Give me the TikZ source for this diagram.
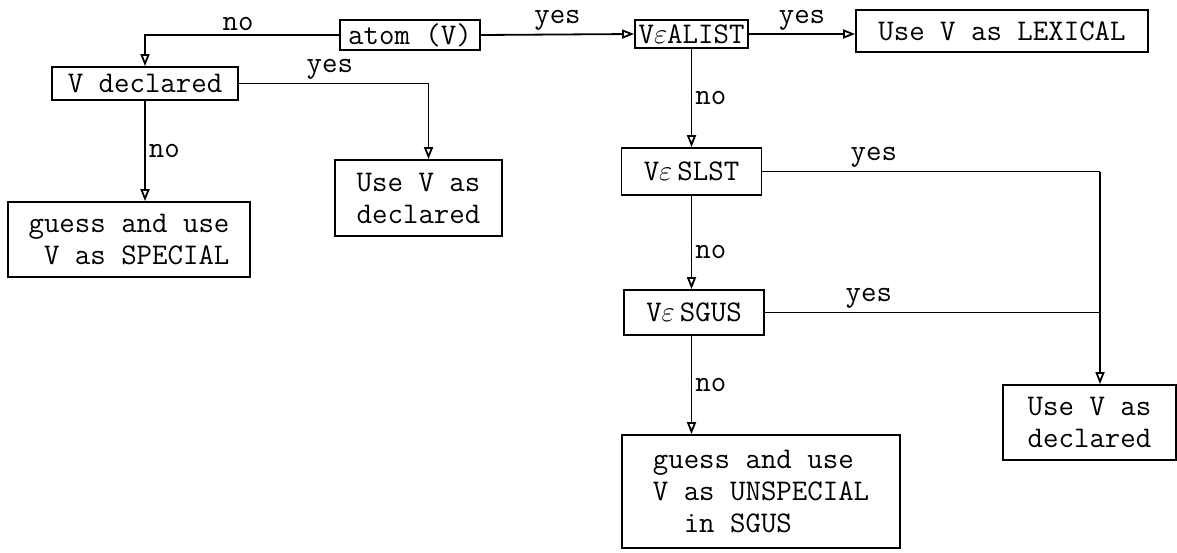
\documentclass[tikz,border=0pt]{standalone}
\usepackage{tikz}
\usetikzlibrary{positioning,arrows.meta}
\newcommand{\tw}{\fontsize{15}{16}\selectfont\ttfamily}
\newcommand{\ep}{$\varepsilon$}
\tikzset{
  box/.style={rectangle,draw,line width=0.9pt,inner sep=0pt,align=left,font=\tw},
  lbl/.style={font=\tw,inner sep=1.5pt},
  fl/.style={-{Triangle[open,length=6pt,width=4.5pt]},line width=0.9pt},
  ln/.style={line width=0.9pt},
}
\begin{document}
\begin{tikzpicture}[x=0.5pt,y=-0.5pt]
  \useasboundingbox[fill=white] (0,0) rectangle (1177,552);
  % top row
  \node[box,minimum width=70pt,minimum height=15pt] (atom) at (410,35) {atom (V)};
  \node[box,minimum width=56.5pt,minimum height=14pt] (alist) at (691.5,34) {V\ep ALIST};
  \node[box,minimum width=146pt,minimum height=21pt] (lex) at (1002,31) {Use V as LEXICAL};
  % left branch
  \node[box,minimum width=93pt,minimum height=16.5pt] (decl) at (145,83.5) {V declared};
  \node[box,minimum width=83.5pt,minimum height=38pt] (usedecl) at (418.5,198) {Use V as\\declared};
  \node[box,minimum width=121pt,minimum height=37.5pt] (special) at (129,239.5) {guess and use\\\phantom{x}V as SPECIAL};
  % right branch
  \node[box,minimum width=70pt,minimum height=23.5pt] (slst) at (691.5,171.5) {V\ep\,SLST};
  \node[box,minimum width=70pt,minimum height=22.5pt] (sgus) at (694,312.5) {V\ep\,SGUS};
  \node[box,minimum width=139pt,minimum height=56.5pt] (unspec) at (761,491.5) {guess and use\\V as UNSPECIAL\\\phantom{xx}in SGUS};
  \node[box,minimum width=86.5pt,minimum height=37.5pt] (usedecl2) at (1089.5,422.5) {Use V as\\declared};
  \coordinate (jn) at (1100,171.5);
  % connectors
  \draw[fl] (atom.west) -| node[lbl,pos=0.26,above]{no} (decl.north);
  \draw[fl] (atom.east) -- node[lbl,above]{yes} (alist.west);
  \draw[fl] (alist.east) -- node[lbl,above]{yes} (alist.east -| lex.west);
  \draw[fl] (decl.east) -| node[lbl,pos=0.24,above]{yes} ([xshift=5pt]usedecl.north);
  \draw[fl] (decl.south) -- node[lbl,right]{no} (decl.south |- special.north);
  \draw[fl] (alist.south) -- node[lbl,right]{no} (alist.south |- slst.north);
  \draw[fl] (slst.south) -- node[lbl,pos=0.6,right]{no} (slst.south |- sgus.north);
  \draw[fl] (slst.south |- sgus.south) -- node[lbl,right]{no} (slst.south |- unspec.north);
  \draw[ln] (slst.east) -- node[lbl,pos=0.33,above]{yes} (jn);
  \draw[ln] (sgus.east) -- node[lbl,pos=0.31,above]{yes} (sgus.east -| jn);
  \draw[fl] (jn) -- (jn |- usedecl2.north);
\end{tikzpicture}
\end{document}
